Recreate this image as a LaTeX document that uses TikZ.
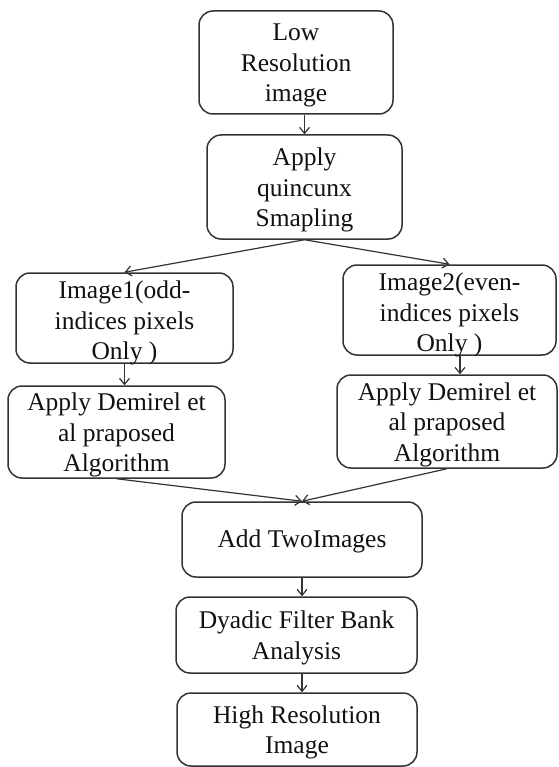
\documentclass[tikz,border=0pt]{standalone}
\usepackage{fontspec}
\setmainfont{Liberation Serif}
\usetikzlibrary{arrows.meta}
\definecolor{edge}{HTML}{333333}
\definecolor{ink}{HTML}{111111}
\begin{document}
\begin{tikzpicture}[x=1pt,y=-1pt,
  box/.style={draw=edge, line width=1.5pt, rounded corners=14pt, inner sep=0pt},
  txt/.style={align=center, inner sep=0pt, text=ink, font=\fontsize{25.5}{30.5}\selectfont},
  arr/.style={draw=edge, line width=1.2pt, -{Straight Barb[length=6pt,width=10pt]}}]
\fill[white] (0,0) rectangle (558,767);
\useasboundingbox (0,0) rectangle (558,767);
\node[box, minimum width=194pt, minimum height=103pt] (b1) at (296,62.5) {};
\node[box, minimum width=195pt, minimum height=104pt] (b2) at (304.5,187) {};
\node[box, minimum width=217pt, minimum height=90pt] (b3) at (124.5,318) {};
\node[box, minimum width=217pt, minimum height=92pt] (b4) at (116.5,432) {};
\node[box, minimum width=213pt, minimum height=90pt] (b5) at (449.5,310) {};
\node[box, minimum width=220pt, minimum height=93pt] (b6) at (447,421.5) {};
\node[box, minimum width=240pt, minimum height=75pt] (b7) at (302,539.5) {};
\node[box, minimum width=241pt, minimum height=76pt] (b8) at (296.5,635) {};
\node[box, minimum width=240pt, minimum height=73pt] (b9) at (297,729.5) {};
\node[txt] (t1) at ([yshift=-3pt]b1.center) {Low\\Resolution\\image};
\node[txt] (t2) at ([yshift=-3pt]b2.center) {Apply\\quincunx\\Smapling};
\node[txt] (t3) at ([yshift=-5pt]b3.center) {Image1(odd-\\indices pixels\\Only )};
\node[txt] (t4) at ([yshift=-3pt]b4.center) {Apply Demirel et\\al praposed\\Algorithm};
\node[txt] (t5) at ([yshift=-5pt]b5.center) {Image2(even-\\indices pixels\\Only )};
\node[txt] (t6) at ([yshift=-3pt]b6.center) {Apply Demirel et\\al praposed\\Algorithm};
\node[txt] (t7) at ([yshift=-2pt]b7.center) {Add TwoImages};
\node[txt] (t8) at ([yshift=-3pt]b8.center) {Dyadic Filter Bank\\Analysis};
\node[txt] (t9) at ([yshift=-3pt]b9.center) {High Resolution\\Image};
\draw[arr] (b1.south -| b2.north) -- (b2.north);
\draw[arr] (b2.south) -- (b3.north);
\draw[arr] (b2.south) -- (b5.north);
\draw[arr] (b3.south) -- (b3.south |- b4.north);
\draw[arr] ([xshift=10.5pt]b5.south) -- ([xshift=10.5pt]b5.south |- b6.north);
\draw[arr] (b4.south) -- (b7.north);
\draw[arr] (b6.south) -- (b7.north);
\draw[arr] (b7.south) -- (b7.south |- b8.north);
\draw[arr] (b7.south |- b8.south) -- (b7.south |- b9.north);
\end{tikzpicture}
\end{document}
